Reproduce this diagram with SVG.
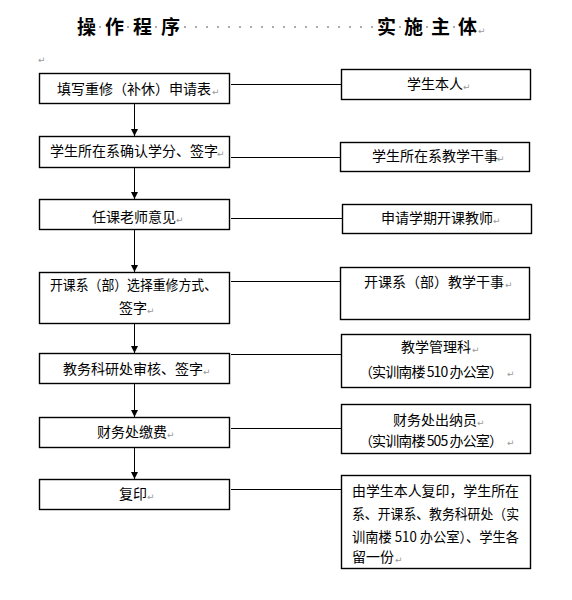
<svg xmlns="http://www.w3.org/2000/svg" width="572" height="600" viewBox="0 0 572 600">
<style>
.bx{fill:#fff;stroke:#000;stroke-width:1.4}
.t{font-family:"Noto Sans CJK SC","Noto Sans",sans-serif;font-size:14px;fill:#000}
.h{font-family:"Noto Sans CJK SC",sans-serif;font-size:19px;font-weight:bold;fill:#000}
.pm{font-family:"DejaVu Sans",sans-serif;font-size:9px;fill:#999}
.ln{stroke:#000;stroke-width:1;fill:none}
.dot{fill:#999}
</style>
<defs>
<marker id="ah" markerWidth="8" markerHeight="8" refX="7" refY="4" orient="auto" markerUnits="userSpaceOnUse">
<path d="M0,0.5 L7,4 L0,7.5 Z" fill="#000"/>
</marker>
</defs>
<g id="title">
<text class="h" x="77" y="34">操</text>
<text class="h" x="105" y="34">作</text>
<text class="h" x="133" y="34">程</text>
<text class="h" x="161" y="34">序</text>
<text class="h" x="377" y="34">实</text>
<text class="h" x="404" y="34">施</text>
<text class="h" x="431" y="34">主</text>
<text class="h" x="458" y="34">体</text>
<text class="pm" x="478" y="34">↵</text>
<g class="dot">
<circle cx="100" cy="27" r="1.1"/><circle cx="128" cy="27" r="1.1"/><circle cx="156" cy="27" r="1.1"/>
<circle cx="185" cy="27" r="1.1"/><circle cx="196" cy="27" r="1.1"/><circle cx="207" cy="27" r="1.1"/><circle cx="218" cy="27" r="1.1"/><circle cx="229" cy="27" r="1.1"/><circle cx="240" cy="27" r="1.1"/><circle cx="251" cy="27" r="1.1"/><circle cx="262" cy="27" r="1.1"/><circle cx="273" cy="27" r="1.1"/><circle cx="284" cy="27" r="1.1"/><circle cx="295" cy="27" r="1.1"/><circle cx="306" cy="27" r="1.1"/><circle cx="317" cy="27" r="1.1"/><circle cx="328" cy="27" r="1.1"/><circle cx="339" cy="27" r="1.1"/><circle cx="350" cy="27" r="1.1"/><circle cx="361" cy="27" r="1.1"/><circle cx="372" cy="27" r="1.1"/>
<circle cx="400" cy="27" r="1.1"/><circle cx="427" cy="27" r="1.1"/><circle cx="454" cy="27" r="1.1"/>
</g>
<text class="pm" x="38" y="63">↵</text>
</g>
<g id="connectors">
<line class="ln" x1="134.5" y1="103" x2="134.5" y2="136" marker-end="url(#ah)"/>
<line class="ln" x1="134.5" y1="167" x2="134.5" y2="199" marker-end="url(#ah)"/>
<line class="ln" x1="134.5" y1="229" x2="134.5" y2="272" marker-end="url(#ah)"/>
<line class="ln" x1="134.5" y1="323" x2="134.5" y2="353" marker-end="url(#ah)"/>
<line class="ln" x1="134.5" y1="383" x2="134.5" y2="417" marker-end="url(#ah)"/>
<line class="ln" x1="134.5" y1="447" x2="134.5" y2="479" marker-end="url(#ah)"/>
<line class="ln" x1="231" y1="84.5" x2="341" y2="84.5"/>
<line class="ln" x1="231" y1="157.5" x2="340" y2="157.5"/>
<line class="ln" x1="231" y1="218.5" x2="342" y2="218.5"/>
<line class="ln" x1="231" y1="281.5" x2="340" y2="281.5"/>
<line class="ln" x1="231" y1="354.5" x2="341" y2="354.5"/>
<line class="ln" x1="231" y1="428.5" x2="341" y2="428.5"/>
<line class="ln" x1="231" y1="489.5" x2="341" y2="489.5"/>
</g>
<g id="step1"><rect class="bx" x="39.5" y="73.5" width="190" height="30"/>
<text class="t" x="57" y="94">填写重修（补休）申请表</text><text class="pm" x="212" y="95">↵</text></g>
<g id="step2"><rect class="bx" x="39.5" y="136.5" width="190" height="31"/>
<text class="t" x="50" y="156">学生所在系确认学分、签字</text><text class="pm" x="217" y="157">↵</text></g>
<g id="step3"><rect class="bx" x="39.5" y="199.5" width="190" height="30"/>
<text class="t" x="92" y="222">任课老师意见</text><text class="pm" x="176" y="223">↵</text></g>
<g id="step4"><rect class="bx" x="39.5" y="272.5" width="190" height="51"/>
<text class="t" x="50" y="290" textLength="167" lengthAdjust="spacingAndGlyphs">开课系（部）选择重修方式、</text>
<text class="t" x="119" y="313">签字</text><text class="pm" x="147" y="314">↵</text></g>
<g id="step5"><rect class="bx" x="39.5" y="353.5" width="190" height="30"/>
<text class="t" x="63" y="374">教务科研处审核、签字</text><text class="pm" x="203" y="375">↵</text></g>
<g id="step6"><rect class="bx" x="39.5" y="417.5" width="190" height="30"/>
<text class="t" x="97" y="437">财务处缴费</text><text class="pm" x="167" y="438">↵</text></g>
<g id="step7"><rect class="bx" x="39.5" y="479.5" width="190" height="30"/>
<text class="t" x="119" y="499">复印</text><text class="pm" x="147" y="500">↵</text></g>
<g id="actor1"><rect class="bx" x="341.5" y="69.5" width="189" height="30"/>
<text class="t" x="407" y="89">学生本人</text><text class="pm" x="463" y="90">↵</text></g>
<g id="actor2"><rect class="bx" x="340.5" y="142.5" width="189" height="29"/>
<text class="t" x="372" y="161">学生所在系教学干事</text><text class="pm" x="497" y="162">↵</text></g>
<g id="actor3"><rect class="bx" x="342.5" y="204.5" width="189" height="29"/>
<text class="t" x="381" y="223">申请学期开课教师</text><text class="pm" x="493" y="224">↵</text></g>
<g id="actor4"><rect class="bx" x="340.5" y="267.5" width="189" height="52"/>
<text class="t" x="364" y="287">开课系（部）教学干事</text><text class="pm" x="505" y="288">↵</text></g>
<g id="actor5"><rect class="bx" x="341.5" y="334.5" width="189" height="53"/>
<text class="t" x="401" y="352">教学管理科</text><text class="pm" x="472" y="353">↵</text>
<text class="t" x="359" y="377" letter-spacing="-0.9">（实训南楼 510 办公室）<tspan class="pm" dx="5" letter-spacing="0">↵</tspan></text></g>
<g id="actor6"><rect class="bx" x="341.5" y="404.5" width="189" height="49"/>
<text class="t" x="393" y="425">财务处出纳员</text><text class="pm" x="477" y="426">↵</text>
<text class="t" x="359" y="446" letter-spacing="-0.9">（实训南楼 505 办公室）<tspan class="pm" dx="5" letter-spacing="0">↵</tspan></text></g>
<g id="actor7"><rect class="bx" x="341.5" y="475.5" width="189" height="93"/>
<text class="t" x="352" y="496" textLength="167" lengthAdjust="spacingAndGlyphs">由学生本人复印，学生所在</text>
<text class="t" x="352" y="519" textLength="167" lengthAdjust="spacingAndGlyphs">系、开课系、教务科研处（实</text>
<text class="t" x="352" y="542" textLength="167" lengthAdjust="spacingAndGlyphs">训南楼 510 办公室）、学生各</text>
<text class="t" x="352" y="562">留一份</text><text class="pm" x="395" y="563">↵</text></g>
</svg>
